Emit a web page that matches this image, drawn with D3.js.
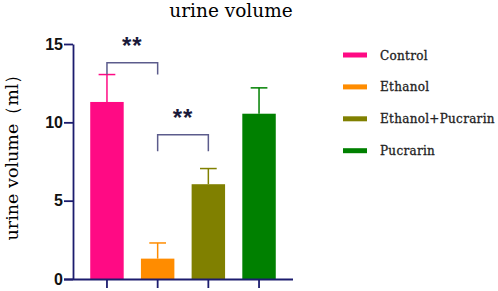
<!DOCTYPE html>
<html>
<head>
<meta charset="utf-8">
<script src="https://cdn.jsdelivr.net/npm/d3@7"></script>
<style>
  body { margin: 0; background: #fff; }
</style>
</head>
<body>
<script>
var w = 498, h = 291;

// data
var groups = ["Control", "Ethanol", "Ethanol+Pucrarin", "Pucrarin"];
var means = [11.3, 1.3, 6.05, 10.55];
var errs = [1.75, 1.0, 1.0, 1.65];
var colors = ["#ff0a84", "#ff8c00", "#808000", "#008000"];
var yTicks = [0, 5, 10, 15];
// significance brackets: [from group, to group, label]
var sigs = [[0, 1, "**"], [1, 2, "**"]];
var sigY = [13.8, 9.2];   // bracket height in data units
var sigLeg = [0.75, 1.05];  // leg length in data units

var axisColor = "#1c1c6e";
var svg = d3.select("body").append("svg").attr("width", w).attr("height", h);

var y = d3.scaleLinear().domain([0, 15]).range([279, 44]);
var x = d3.scaleBand().domain(groups).range([73, 293]).paddingInner(0.34).paddingOuter(0.34);

// title
svg.append("text")
  .attr("x", 231).attr("y", 17)
  .attr("text-anchor", "middle")
  .style("font-family", "DejaVu Serif")
  .style("font-size", "18.5px")
  .text("urine volume");

// bars
svg.selectAll("rect.bar").data(means).enter().append("rect")
  .attr("class", "bar")
  .attr("x", function (d, i) { return x(groups[i]); })
  .attr("y", function (d) { return y(d); })
  .attr("width", x.bandwidth())
  .attr("height", function (d) { return y(0) - y(d); })
  .style("fill", function (d, i) { return colors[i]; });

// error bars (upper only)
var eb = svg.selectAll("g.err").data(means).enter().append("g").attr("class", "err")
  .style("stroke", function (d, i) { return colors[i]; })
  .style("stroke-width", 1.5);
eb.append("line")
  .attr("x1", function (d, i) { return x(groups[i]) + x.bandwidth() / 2; })
  .attr("x2", function (d, i) { return x(groups[i]) + x.bandwidth() / 2; })
  .attr("y1", function (d) { return y(d); })
  .attr("y2", function (d, i) { return y(d + errs[i]); });
eb.append("line")
  .attr("x1", function (d, i) { return x(groups[i]) + x.bandwidth() / 4; })
  .attr("x2", function (d, i) { return x(groups[i]) + x.bandwidth() * 3 / 4; })
  .attr("y1", function (d, i) { return y(d + errs[i]); })
  .attr("y2", function (d, i) { return y(d + errs[i]); });

// axes
var yAxis = d3.axisLeft(y).tickValues(yTicks).tickSize(9).tickPadding(1).tickSizeOuter(0);
var gy = svg.append("g").attr("transform", "translate(73,0)").call(yAxis);
var xAxis = d3.axisBottom(x).tickSize(9).tickSizeOuter(0).tickFormat("");
var gx = svg.append("g").attr("transform", "translate(0,279)").call(xAxis);
gx.select(".domain").attr("d", "M64,0.5H293");
[gx, gy].forEach(function (g) {
  g.selectAll("path, line").style("stroke", axisColor).style("stroke-width", 1.8);
});
gy.selectAll("text")
  .style("font-family", "Liberation Sans")
  .style("font-weight", "bold")
  .style("font-size", "16px")
  .style("fill", "#111");

// y label
svg.append("text")
  .attr("transform", "translate(18,153) rotate(-90)")
  .attr("text-anchor", "middle")
  .style("font-family", "DejaVu Serif")
  .style("font-size", "17.5px")
  .text("urine volume（ml）");

// significance
sigs.forEach(function (s, k) {
  var x1 = x(groups[s[0]]) + x.bandwidth() / 2;
  var x2 = x(groups[s[1]]) + x.bandwidth() / 2;
  var yt = y(sigY[k]), yb = y(sigY[k] - sigLeg[k]);
  svg.append("path")
    .attr("d", "M" + x1 + "," + yb + "V" + yt + "H" + x2 + "V" + yb)
    .style("fill", "none").style("stroke", "#5c5c8c").style("stroke-width", 1.5);
  svg.append("text")
    .attr("x", (x1 + x2) / 2).attr("y", yt - 2)
    .attr("dy", "-0.3em")
    .attr("text-anchor", "middle")
    .style("font-family", "Liberation Sans")
    .style("font-weight", "bold")
    .style("font-size", "24px")
    .style("letter-spacing", "1px")
    .style("fill", "#1a1a3a")
    .text(s[2]);
});

// legend
var lg = svg.selectAll("g.leg").data(groups).enter().append("g").attr("class", "leg")
  .attr("transform", function (d, i) { return "translate(343," + (55 + i * 31.9) + ")"; });
lg.append("rect").attr("x", 0).attr("y", -2.5).attr("width", 24).attr("height", 5)
  .style("fill", function (d, i) { return colors[i]; });
lg.append("text").attr("x", 37).attr("y", 4.5)
  .style("font-family", "DejaVu Serif")
  .style("font-size", "12px")
  .style("letter-spacing", "0.3px")
  .style("fill", "#222")
  .style("stroke", "#222")
  .style("stroke-width", 0.3)
  .text(function (d) { return d; });
</script>
</body>
</html>
